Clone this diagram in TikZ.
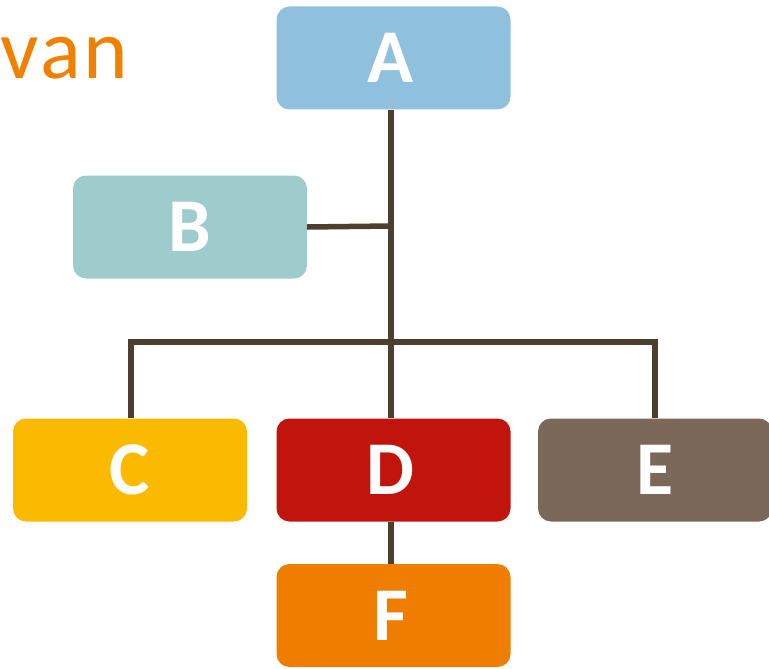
\documentclass[tikz,border=0pt]{standalone}
\usepackage{fontspec}
\setmainfont{Carlito}
\definecolor{cA}{HTML}{8FC0DD}
\definecolor{cB}{HTML}{9ECCCC}
\definecolor{cC}{HTML}{FBB900}
\definecolor{cD}{HTML}{C0140C}
\definecolor{cE}{HTML}{7B6858}
\definecolor{cF}{HTML}{EE7D00}
\definecolor{linec}{HTML}{4D3F2E}
\definecolor{vanc}{HTML}{F08000}
\begin{document}
\begin{tikzpicture}[x=1pt,y=-1pt,
  box/.style={rounded corners=13pt, minimum width=234pt, minimum height=103pt, inner sep=0pt, text=white, font=\bfseries\fontsize{76}{80}\selectfont},
  conn/.style={draw=linec, line width=5.5pt}]
\useasboundingbox (0,0) rectangle (769,669);
\clip (0,0) rectangle (769,669);
\node[anchor=base west, inner sep=0pt, text=vanc, font=\fontsize{85}{90}\selectfont\addfontfeatures{LetterSpace=3}] (van) at (0.5,79) {van};
\coordinate (jb) at (391,226);
\coordinate (bus) at (391,342);
\node[box, fill=cA] (A) at (393.5,58) {\hspace*{-6pt}A};
\node[box, fill=cB] (B) at (190,227) {B};
\node[box, fill=cC] (C) at (130,470) {C};
\node[box, fill=cD] (D) at (393.5,470) {\hspace*{-6pt}D};
\node[box, fill=cE] (E) at (655,470) {E};
\node[box, fill=cF] (F) at (393.5,615.5) {\hspace*{-6pt}F};
\draw[conn] ([xshift=-2.5pt]A.south) -- ([xshift=-2.5pt]D.north);
\draw[conn] (B.east) -- (jb);
\draw[conn] ([xshift=1pt]C.north) |- (bus) -| (E.north);
\draw[conn] ([xshift=-2.5pt]D.south) -- ([xshift=-2.5pt]F.north);
\end{tikzpicture}
\end{document}
